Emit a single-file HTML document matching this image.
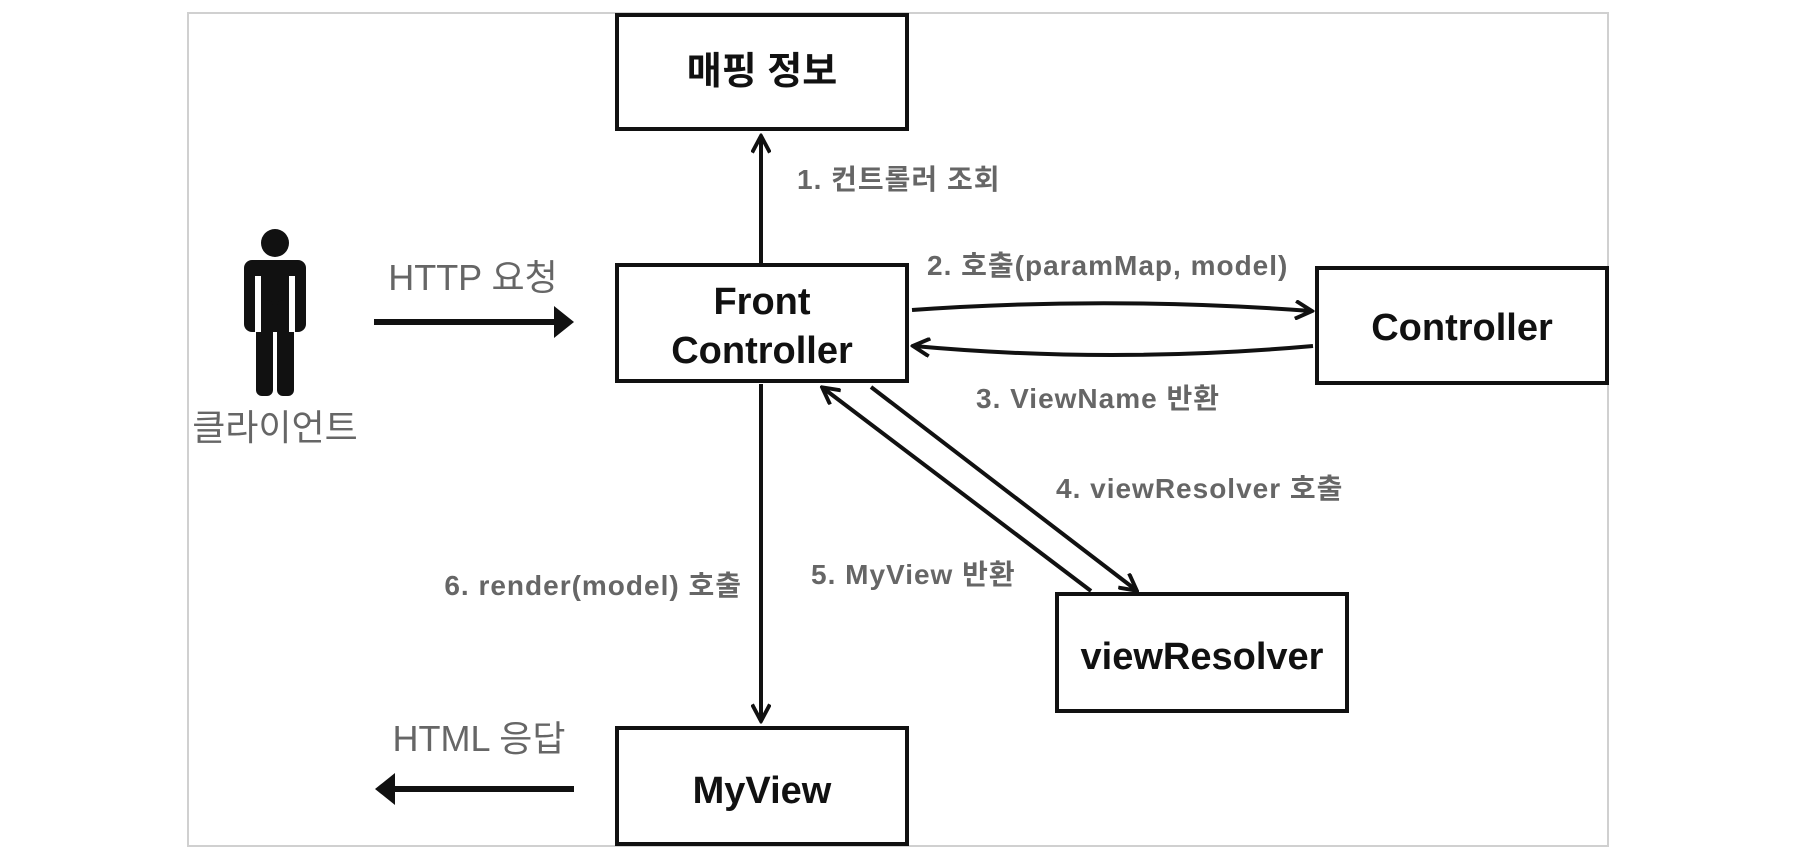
<!DOCTYPE html>
<html><head><meta charset="utf-8"><style>
body{margin:0;width:1810px;height:856px;background:#fff;overflow:hidden}
svg text{font-family:"Liberation Sans","Noto Sans CJK KR",sans-serif}
</style></head><body>
<svg width="1810" height="856" xmlns="http://www.w3.org/2000/svg">
<defs>
<marker id="a" markerWidth="20" markerHeight="20" refX="15" refY="9" orient="auto" markerUnits="userSpaceOnUse" viewBox="0 0 18 18">
<path d="M1,1 L16,9 L1,17" fill="none" stroke="#111" stroke-width="3.5"/></marker>
</defs>
<rect x="188" y="13" width="1420" height="833" fill="none" stroke="#d0d0d0" stroke-width="2"/>
<g fill="#fff" stroke="#111" stroke-width="4">
<rect x="617" y="15" width="290" height="114"/>
<rect x="617" y="265" width="290" height="116"/>
<rect x="1317" y="268" width="290" height="115"/>
<rect x="1057" y="594" width="290" height="117"/>
<rect x="617" y="728" width="290" height="116"/>
</g>
<g font-weight="bold" font-size="38" text-anchor="middle" fill="#111">
<text x="762" y="84">매핑 정보</text>
<text x="762" y="314">Front</text>
<text x="762" y="363">Controller</text>
<text x="1462" y="340">Controller</text>
<text x="1202" y="669">viewResolver</text>
<text x="762" y="803">MyView</text>
</g>
<!-- person -->
<g fill="#111">
<circle cx="275" cy="243" r="14"/>
<rect x="244" y="260" width="62" height="72" rx="8"/>
<rect x="256" y="300" width="17" height="96" rx="6"/>
<rect x="277" y="300" width="17" height="96" rx="6"/>
</g>
<rect x="255" y="276" width="6" height="56" fill="#fff"/>
<rect x="289" y="276" width="6" height="56" fill="#fff"/>
<text x="275" y="440" font-size="36" text-anchor="middle" fill="#666">클라이언트</text>
<text x="473" y="290" font-size="36" text-anchor="middle" fill="#666">HTTP 요청</text>
<text x="479" y="751" font-size="36" text-anchor="middle" fill="#666">HTML 응답</text>
<line x1="374" y1="322" x2="555" y2="322" stroke="#111" stroke-width="6"/>
<path d="M554,306 L574,322 L554,338 Z" fill="#111"/>
<line x1="394" y1="789" x2="574" y2="789" stroke="#111" stroke-width="6"/>
<path d="M395,773 L375,789 L395,805 Z" fill="#111"/>
<g stroke="#111" stroke-width="4" fill="none" marker-end="url(#a)">
<line x1="761" y1="263" x2="761" y2="137"/>
<line x1="761" y1="384" x2="761" y2="720"/>
<path d="M912,310 Q1110,296 1311,311"/>
<path d="M1313,346 Q1110,364 914,346"/>
<line x1="871" y1="387" x2="1136" y2="590"/>
<line x1="1091" y1="591" x2="823" y2="388"/>
</g>
<g font-weight="bold" font-size="28" fill="#666" letter-spacing="1">
<text x="797" y="189">1. 컨트롤러 조회</text>
<text x="927" y="275">2. 호출(paramMap, model)</text>
<text x="976" y="408">3. ViewName 반환</text>
<text x="1056" y="498">4. viewResolver 호출</text>
<text x="811" y="584">5. MyView 반환</text>
<text x="742" y="595" text-anchor="end">6. render(model) 호출</text>
</g>
</svg>
</body></html>
